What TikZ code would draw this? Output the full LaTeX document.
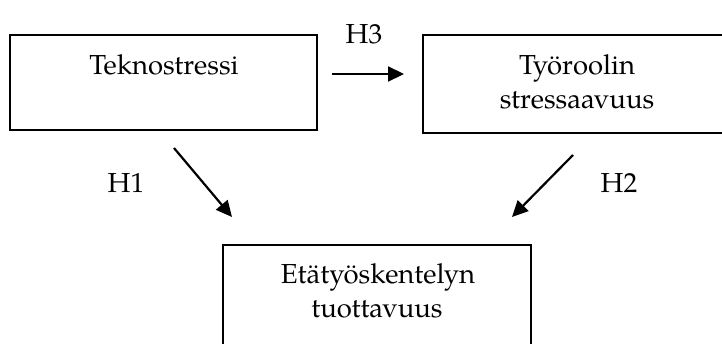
\documentclass[tikz,border=0pt]{standalone}
\usepackage{fontspec}
\setmainfont{TeX Gyre Pagella}
\usetikzlibrary{arrows.meta}
\begin{document}
\begin{tikzpicture}[x=1pt,y=-1pt,
  boxnode/.style={draw,line width=1.9pt,rectangle,inner sep=0pt},
  txt/.style={anchor=base,inner sep=0pt,font=\fontsize{27.5}{34}\selectfont},
  arr/.style={line width=2.2pt,-{Triangle[length=16pt,width=15pt]}}]
\useasboundingbox (0,0) rectangle (722,343);
\clip (0,0) rectangle (722,343);
% boxes
\node[boxnode,minimum width=307pt,minimum height=95pt] (tek) at (163.5,82.5) {};
\node[boxnode,minimum width=307pt,minimum height=98pt] (tyo) at (576.5,84) {};
\node[boxnode,minimum width=308pt,minimum height=140pt] (eta) at (377,315) {};
% texts
\node[txt] (t1) at (164,74) {Teknostressi};
\node[txt] (t2) at (577,74) {Työroolin};
\node[txt] (t3) at (577,108) {stressaavuus};
\node[txt] (t4) at (378,283) {Etätyöskentelyn};
\node[txt] (t5) at (377,317) {tuottavuus};
\node[txt] (h3) at (364,43) {H3};
\node[txt] (h1) at (126,192) {H1};
\node[txt] (h2) at (619,192) {H2};
% arrows
\coordinate (a3s) at (332,74);
\coordinate (a3e) at (404,74);
\coordinate (a1s) at (174,148);
\coordinate (a1e) at (232,217);
\coordinate (a2s) at (573,155);
\coordinate (a2e) at (512,217);
\draw[arr] (a3s) -- (a3e);
\draw[arr] (a1s) -- (a1e);
\draw[arr] (a2s) -- (a2e);
\end{tikzpicture}
\end{document}
